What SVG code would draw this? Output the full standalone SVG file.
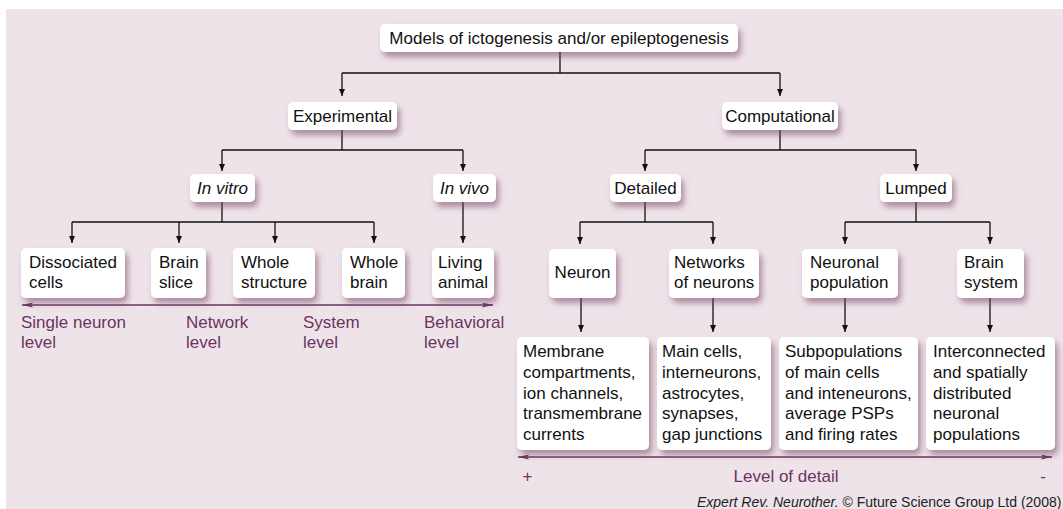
<svg xmlns="http://www.w3.org/2000/svg" width="1063" height="509" viewBox="0 0 1063 509">
<style>
text{font-family:"Liberation Sans",Arial,sans-serif;font-size:17px;fill:#111}
.c{text-anchor:middle}
.i{font-style:italic}
.lv{fill:#6a3560}
.box{fill:#fff;filter:url(#sh)}
.con{stroke:#111;stroke-width:1.3;fill:none}
.lvl{stroke:#6a3560;stroke-width:1.5;fill:none;marker-start:url(#la);marker-end:url(#la)}
.cap{font-size:14px;fill:#222}
</style>
<defs>
<filter id="sh" x="-20%" y="-30%" width="140%" height="170%">
<feDropShadow dx="3" dy="5" stdDeviation="3" flood-color="#74425f" flood-opacity="0.55"/>
</filter>
<marker id="ar" markerUnits="userSpaceOnUse" markerWidth="8" markerHeight="10" refX="7" refY="3" orient="auto">
<path d="M0,0 L7,3 L0,6 Z" fill="#111"/>
</marker>
<marker id="la" markerUnits="userSpaceOnUse" markerWidth="12" markerHeight="8" refX="11" refY="2.5" orient="auto-start-reverse">
<path d="M0,0 L11,2.5 L0,5 L2,2.5 Z" fill="#6a3560"/>
</marker>
</defs>
<rect x="6" y="9" width="1057" height="500" fill="#efe3ea"/>

<g id="connectors">
<path class="con" d="M560,52 V73 M342,73 H780"/>
<path class="con" d="M342,73 V96" marker-end="url(#ar)"/>
<path class="con" d="M780,73 V96" marker-end="url(#ar)"/>
<path class="con" d="M342,130 V150 M222,150 H463"/>
<path class="con" d="M222,150 V171" marker-end="url(#ar)"/>
<path class="con" d="M463,150 V171" marker-end="url(#ar)"/>
<path class="con" d="M780,130 V150 M645,150 H916"/>
<path class="con" d="M645,150 V171" marker-end="url(#ar)"/>
<path class="con" d="M916,150 V171" marker-end="url(#ar)"/>
<path class="con" d="M222,202 V222 M72,222 H374"/>
<path class="con" d="M72,222 V243" marker-end="url(#ar)"/>
<path class="con" d="M179,222 V243" marker-end="url(#ar)"/>
<path class="con" d="M275,222 V243" marker-end="url(#ar)"/>
<path class="con" d="M374,222 V243" marker-end="url(#ar)"/>
<path class="con" d="M463,202 V243" marker-end="url(#ar)"/>
<path class="con" d="M645,202 V222 M580,222 H713"/>
<path class="con" d="M580,222 V244" marker-end="url(#ar)"/>
<path class="con" d="M713,222 V244" marker-end="url(#ar)"/>
<path class="con" d="M916,202 V222 M845,222 H990"/>
<path class="con" d="M845,222 V244" marker-end="url(#ar)"/>
<path class="con" d="M990,222 V244" marker-end="url(#ar)"/>
<path class="con" d="M581,298 V332" marker-end="url(#ar)"/>
<path class="con" d="M713,298 V332" marker-end="url(#ar)"/>
<path class="con" d="M845,298 V332" marker-end="url(#ar)"/>
<path class="con" d="M990,298 V332" marker-end="url(#ar)"/>
<path class="lvl" d="M22,305 H493"/>
<path class="lvl" d="M518,457 H1052"/>
</g>

<g id="root"><rect class="box" x="380" y="24" width="358" height="28" rx="5"/><text class="c" x="559" y="44" font-size="17.3">Models of ictogenesis and/or epileptogenesis</text></g>
<g id="experimental"><rect class="box" x="288" y="102" width="109" height="28" rx="5"/><text class="c" x="342.5" y="122">Experimental</text></g>
<g id="computational"><rect class="box" x="722" y="102" width="116" height="28" rx="5"/><text class="c" x="780" y="122">Computational</text></g>
<g id="invitro"><rect class="box" x="190" y="174" width="65" height="28" rx="5"/><text class="c i" x="222.5" y="194">In vitro</text></g>
<g id="invivo"><rect class="box" x="433" y="174" width="63" height="28" rx="5"/><text class="c i" x="464.5" y="194">In vivo</text></g>
<g id="detailed"><rect class="box" x="610" y="174" width="71" height="28" rx="5"/><text class="c" x="645.5" y="194">Detailed</text></g>
<g id="lumped"><rect class="box" x="880" y="174" width="72" height="28" rx="5"/><text class="c" x="916" y="194">Lumped</text></g>

<g id="dissociated"><rect class="box" x="21" y="248" width="104" height="50" rx="5"/><text x="29" y="268">Dissociated</text><text x="29" y="288">cells</text></g>
<g id="brainslice"><rect class="box" x="151" y="248" width="55" height="50" rx="5"/><text x="159" y="268">Brain</text><text x="159" y="288">slice</text></g>
<g id="wholestructure"><rect class="box" x="233" y="248" width="82" height="50" rx="5"/><text x="241" y="268">Whole</text><text x="241" y="288">structure</text></g>
<g id="wholebrain"><rect class="box" x="342" y="248" width="63" height="50" rx="5"/><text x="350" y="268">Whole</text><text x="350" y="288">brain</text></g>
<g id="livinganimal"><rect class="box" x="432" y="248" width="62" height="50" rx="5"/><text x="438" y="268">Living</text><text x="438" y="288">animal</text></g>

<g id="neuron"><rect class="box" x="549" y="249" width="67" height="49" rx="5"/><text class="c" x="582.5" y="278">Neuron</text></g>
<g id="networks"><rect class="box" x="669" y="249" width="90" height="49" rx="5"/><text x="674" y="268">Networks</text><text x="674" y="288">of neurons</text></g>
<g id="neuronalpop"><rect class="box" x="802" y="249" width="96" height="49" rx="5"/><text x="810" y="268">Neuronal</text><text x="810" y="288">population</text></g>
<g id="brainsystem"><rect class="box" x="957" y="249" width="67" height="49" rx="5"/><text x="964" y="268">Brain</text><text x="964" y="288">system</text></g>

<g id="membrane"><rect class="box" x="517" y="337" width="132" height="113" rx="5"/>
<text x="523" y="357">Membrane</text><text x="523" y="378">compartments,</text><text x="523" y="398.5">ion channels,</text><text x="523" y="419">transmembrane</text><text x="523" y="440">currents</text></g>
<g id="maincells"><rect class="box" x="657" y="337" width="114" height="113" rx="5"/>
<text x="662" y="357">Main cells,</text><text x="662" y="378">interneurons,</text><text x="662" y="398.5">astrocytes,</text><text x="662" y="419">synapses,</text><text x="662" y="440">gap junctions</text></g>
<g id="subpop"><rect class="box" x="779" y="337" width="139" height="113" rx="5"/>
<text x="785" y="357">Subpopulations</text><text x="785" y="378">of main cells</text><text x="785" y="398.5">and inteneurons,</text><text x="785" y="419">average PSPs</text><text x="785" y="440">and firing rates</text></g>
<g id="interconnected"><rect class="box" x="926" y="337" width="129" height="113" rx="5"/>
<text x="933" y="357">Interconnected</text><text x="933" y="378">and spatially</text><text x="933" y="398.5">distributed</text><text x="933" y="419">neuronal</text><text x="933" y="440">populations</text></g>

<g id="levels">
<text class="lv" x="21" y="328">Single neuron</text><text class="lv" x="21" y="348">level</text>
<text class="lv" x="186" y="328">Network</text><text class="lv" x="186" y="348">level</text>
<text class="lv" x="303" y="328">System</text><text class="lv" x="303" y="348">level</text>
<text class="lv" x="424" y="328">Behavioral</text><text class="lv" x="424" y="348">level</text>
<text class="lv c" x="527.5" y="482">+</text>
<text class="lv c" x="786" y="482">Level of detail</text>
<text class="lv c" x="1043" y="482">-</text>
</g>
<text class="cap" x="697" y="507"><tspan font-style="italic">Expert Rev. Neurother.</tspan> © Future Science Group Ltd (2008)</text>
</svg>
